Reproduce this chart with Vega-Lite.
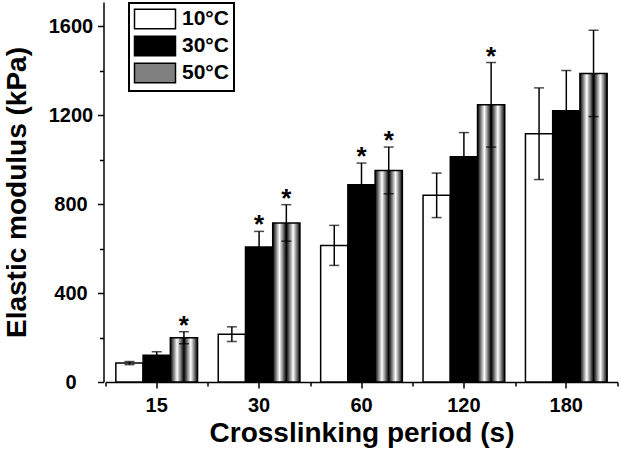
{
  "$schema": "https://vega.github.io/schema/vega-lite/v6.json",
  "width": 512,
  "height": 380,
  "autosize": "none",
  "padding": {"left": 105.5, "top": 2, "right": 2.5, "bottom": 70},
  "config": {
    "view": {"stroke": null},
    "font": "Liberation Sans",
    "axis": {"domainColor": "black", "domainWidth": 1.5, "tickColor": "black", "tickWidth": 1.5, "labelColor": "black", "titleColor": "black", "labelFont": "Liberation Sans", "titleFont": "Liberation Sans", "labelFontWeight": "bold", "titleFontWeight": "bold", "grid": false}
  },
  "data": {
    "values": [
      {"period": "15", "temp": "10°C", "mean": 85, "lo": 78, "hi": 92, "sig": false},
      {"period": "15", "temp": "30°C", "mean": 120, "lo": 104, "hi": 136, "sig": false},
      {"period": "15", "temp": "50°C", "mean": 199, "lo": 172, "hi": 226, "sig": true},
      {"period": "30", "temp": "10°C", "mean": 215, "lo": 182, "hi": 248, "sig": false},
      {"period": "30", "temp": "30°C", "mean": 607, "lo": 537, "hi": 677, "sig": true},
      {"period": "30", "temp": "50°C", "mean": 715, "lo": 633, "hi": 797, "sig": true},
      {"period": "60", "temp": "10°C", "mean": 614, "lo": 524, "hi": 704, "sig": false},
      {"period": "60", "temp": "30°C", "mean": 887, "lo": 790, "hi": 984, "sig": true},
      {"period": "60", "temp": "50°C", "mean": 951, "lo": 846, "hi": 1056, "sig": true},
      {"period": "120", "temp": "10°C", "mean": 839, "lo": 739, "hi": 939, "sig": false},
      {"period": "120", "temp": "30°C", "mean": 1012, "lo": 903, "hi": 1121, "sig": false},
      {"period": "120", "temp": "50°C", "mean": 1246, "lo": 1056, "hi": 1436, "sig": true},
      {"period": "180", "temp": "10°C", "mean": 1116, "lo": 910, "hi": 1322, "sig": false},
      {"period": "180", "temp": "30°C", "mean": 1219, "lo": 1038, "hi": 1400, "sig": false},
      {"period": "180", "temp": "50°C", "mean": 1387, "lo": 1193, "hi": 1581, "sig": false}
    ]
  },
  "encoding": {
    "x": {"field": "period", "type": "nominal", "sort": ["15", "30", "60", "120", "180"], "scale": {"paddingInner": 0, "paddingOuter": 0}, "axis": null},
    "xOffset": {"field": "temp", "type": "nominal", "sort": ["10°C", "30°C", "50°C"], "scale": {"paddingInner": 0, "paddingOuter": 0.38}},
    "y": {"field": "mean", "type": "quantitative", "scale": {"domain": [0, 1708], "nice": false, "zero": true}, "axis": null}
  },
  "layer": [
    {
      "mark": {"type": "bar", "stroke": "black", "strokeWidth": 1.5},
      "encoding": {
        "x": {"field": "period", "type": "nominal", "sort": ["15", "30", "60", "120", "180"], "scale": {"paddingInner": 0, "paddingOuter": 0},
          "axis": {"orient": "bottom", "title": "Crosslinking period (s)", "labelAngle": 0, "labelFontSize": 20, "titleFontSize": 28, "tickSize": 6, "labelPadding": 7, "titlePadding": 4}},
        "y": {"field": "mean", "type": "quantitative", "scale": {"domain": [0, 1708], "nice": false, "zero": true},
          "axis": {"orient": "left", "title": "Elastic modulus (kPa)", "values": [0, 400, 800, 1200, 1600], "format": "d", "labelFontSize": 20, "titleFontSize": 28, "tickSize": 6, "labelAlign": "center", "labelPadding": 27, "offset": 2, "titlePadding": 17}},
        "fill": {
          "field": "temp", "type": "nominal",
          "scale": {"domain": ["10°C", "30°C", "50°C"], "range": ["white", "black", "#808080"]},
          "condition": {"test": "datum.temp === '50°C'", "value": {"gradient": "linear", "x1": 0, "y1": 0, "x2": 1, "y2": 0, "stops": [{"offset": 0, "color": "black"}, {"offset": 0.25, "color": "white"}, {"offset": 0.5, "color": "black"}, {"offset": 0.75, "color": "white"}, {"offset": 1, "color": "black"}]}},
          "legend": {
            "orient": "none", "legendX": 23.5, "legendY": 1, "title": null,
            "strokeColor": "black", "fillColor": "white", "padding": 5,
            "symbolType": "M-2,-0.95H2V0.95H-2Z", "symbolSize": 420, "symbolStrokeColor": "black", "symbolStrokeWidth": 1.5, "symbolOffset": 10,
            "labelFontSize": 21, "labelFontWeight": "bold", "labelColor": "black", "labelOffset": 16, "rowPadding": 1,
            "encode": {
              "legend": {"update": {"strokeWidth": {"value": 2}}},
              "symbols": {"update": {
                "fill": [
                  {"test": "datum.value === '10°C'", "value": "white"},
                  {"test": "datum.value === '30°C'", "value": "black"},
                  {"value": {"gradient": "linear", "x1": 0, "y1": 0, "x2": 1, "y2": 0, "stops": [{"offset": 0, "color": "black"}, {"offset": 0.125, "color": "white"}, {"offset": 0.25, "color": "black"}, {"offset": 0.375, "color": "white"}, {"offset": 0.5, "color": "black"}, {"offset": 0.625, "color": "white"}, {"offset": 0.75, "color": "black"}, {"offset": 0.875, "color": "white"}, {"offset": 1, "color": "black"}]}}
                ],
                "stroke": {"value": "black"},
                "strokeWidth": {"value": 1.5},
                "opacity": {"value": 1}
              }}
            }
          }
        }
      }
    },
    {
      "mark": {"type": "rule", "color": "black", "strokeWidth": 1.5},
      "encoding": {
        "x": {"field": "period", "type": "nominal", "sort": ["15", "30", "60", "120", "180"], "scale": {"paddingInner": 0, "paddingOuter": 0},
          "axis": {"orient": "bottom", "title": null, "labels": false, "domain": false, "tickBand": "extent", "tickSize": 4}},
        "y": {"field": "lo", "type": "quantitative", "scale": {"domain": [0, 1708], "nice": false, "zero": true},
          "axis": {"orient": "left", "title": null, "labels": false, "domain": false, "values": [200, 600, 1000, 1400], "tickSize": 4, "offset": 2}},
        "y2": {"field": "hi"}
      }
    },
    {
      "mark": {"type": "tick", "color": "black", "thickness": 1.5, "size": 10, "orient": "horizontal"},
      "encoding": {"y": {"field": "hi", "type": "quantitative", "axis": null}}
    },
    {
      "mark": {"type": "tick", "color": "black", "thickness": 1.5, "size": 10, "orient": "horizontal"},
      "encoding": {"y": {"field": "lo", "type": "quantitative", "axis": null}}
    },
    {
      "transform": [{"filter": "datum.sig"}],
      "mark": {"type": "text", "text": "*", "fontSize": 26, "fontWeight": "bold", "color": "black", "baseline": "alphabetic", "dy": 2, "font": "Liberation Sans"},
      "encoding": {"y": {"field": "hi", "type": "quantitative", "axis": null}}
    }
  ],
  "resolve": {"axis": {"x": "independent", "y": "independent"}}
}
